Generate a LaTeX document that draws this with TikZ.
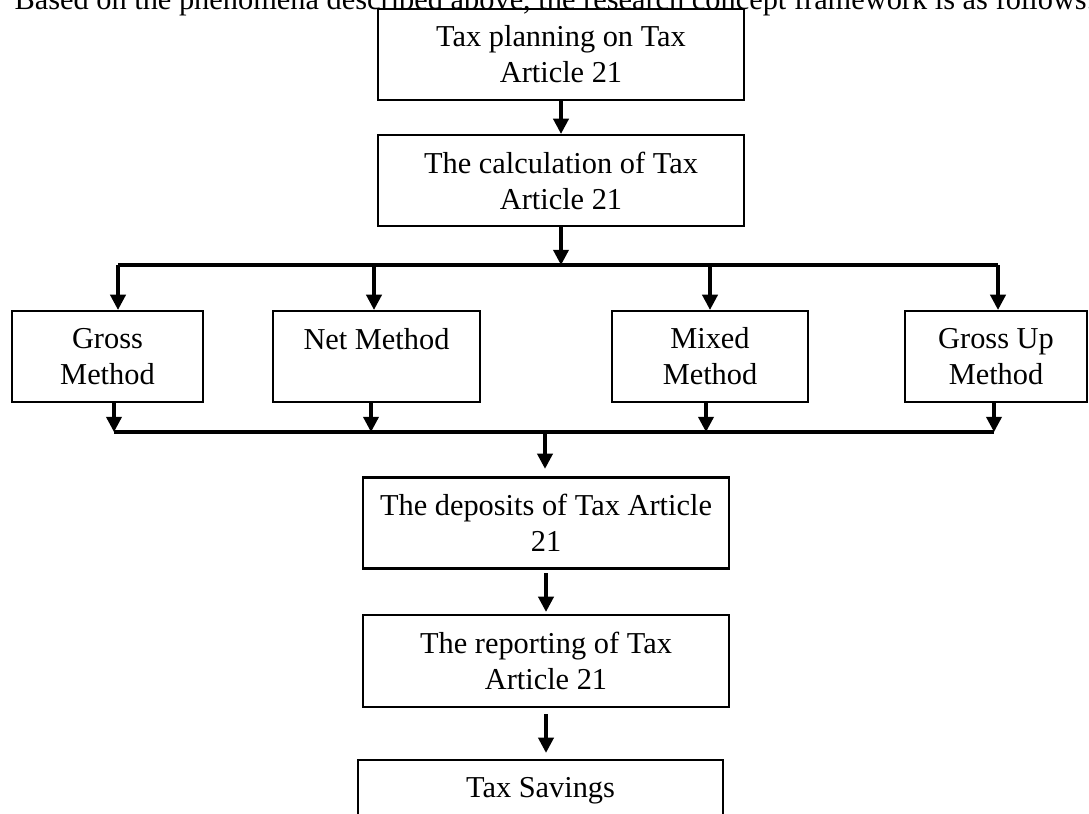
\documentclass[tikz,border=0pt]{standalone}
\usepackage{fontspec}
\setmainfont{Liberation Serif}
\usepackage{tikz}
\usetikzlibrary{arrows.meta,positioning,calc}
\tikzset{
  box/.style={draw,line width=0.9pt,align=center,inner sep=0pt,
    minimum height=35.9pt},
  arr/.style={-{Triangle[length=6pt,width=6pt]},line width=1.3pt},
  bus/.style={line width=1.3pt}
}
\begin{document}
\begin{tikzpicture}[x=0.395pt,y=-0.395pt,font=\fontsize{12}{14.2}\selectfont]
        \useasboundingbox (0,0) rectangle (1089,813);
        \clip (0,0) rectangle (1089,813);
        \node[anchor=base west,inner sep=0pt] (intro) at (14,9)
          {Based on the phenomena described above, the research concept framework is as follows.};
        \node[box,minimum width=144.6pt] (plan) at (561,54.5)
          {Tax planning on Tax\\Article 21};
        \node[box,minimum width=144.6pt] (calc) at (561,180.5)
          {The calculation of Tax\\Article 21};
        \node[box,minimum width=75.4pt] (gross) at (107.5,356.5)
          {Gross\\Method};
        \node[box,minimum width=81.8pt] (net) at (376.5,356.5)
          {Net Method\\~};
        \node[box,minimum width=77.4pt] (mixed) at (710,356.5)
          {Mixed\\Method};
        \node[box,minimum width=71.9pt] (grossup) at (996,356.5)
          {Gross Up\\Method};
        \node[box,minimum width=144.6pt] (deposit) at (546,523)
          {The deposits of Tax Article\\21};
        \node[box,minimum width=144.6pt,minimum height=36.3pt] (report) at (546,661)
          {The reporting of Tax\\Article 21};
        \node[box,minimum width=144.2pt] (saving) at (540.5,805.5)
          {Tax Savings\\~};
        \coordinate (t1) at (118,265);
        \coordinate (t2) at (374,265);
        \coordinate (t3) at (710,265);
        \coordinate (t4) at (998,265);
        \coordinate (b1) at (114,432);
        \coordinate (b2) at (371,432);
        \coordinate (b3) at (706,432);
        \coordinate (b4) at (994,432);
        \coordinate (bm) at (545,432);
        \draw[arr] (plan) -- (calc);
        \draw[arr] (calc.south) -- (calc.south |- t1);
        \draw[bus] (t1) -- (t4);
        \draw[arr] (t1) -- (t1 |- gross.north);
        \draw[arr] (t2) -- (t2 |- net.north);
        \draw[arr] (t3) -- (t3 |- mixed.north);
        \draw[arr] (t4) -- (t4 |- grossup.north);
        \draw[arr] (b1 |- gross.south) -- (b1);
        \draw[arr] (b2 |- net.south) -- (b2);
        \draw[arr] (b3 |- mixed.south) -- (b3);
        \draw[arr] (b4 |- grossup.south) -- (b4);
        \draw[bus] (b1) -- (b4);
        \draw[arr,shorten >=3pt] (bm) -- (bm |- deposit.north);
        \draw[arr,shorten <=1.5pt,shorten >=0.8pt] (deposit) -- (report);
        \draw[arr,shorten <=2.4pt,shorten >=2.4pt] (report.south) -- (report.south |- saving.north);
      \end{tikzpicture}
\end{document}
